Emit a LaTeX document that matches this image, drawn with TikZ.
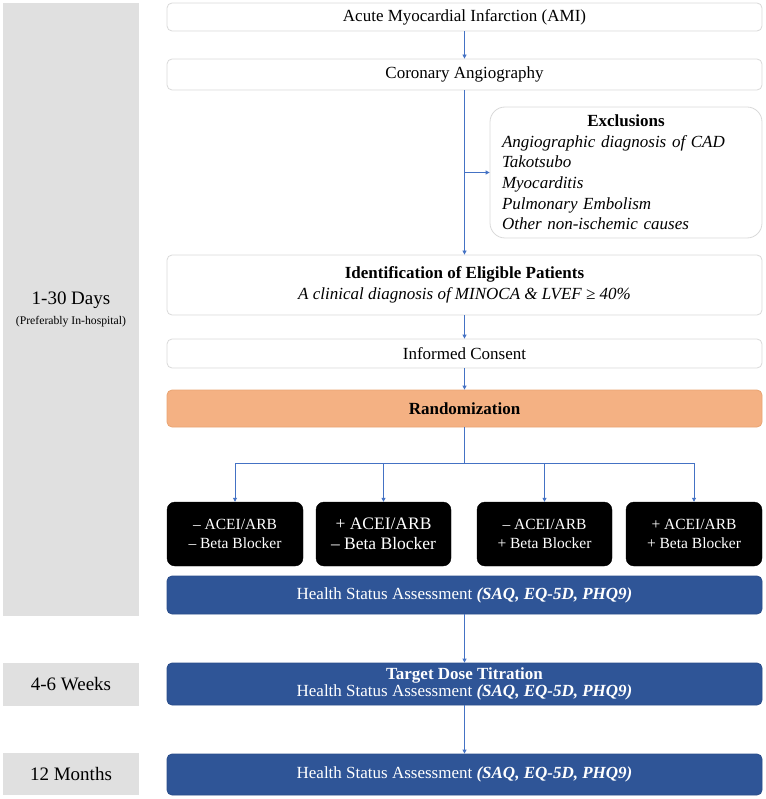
\documentclass[tikz,border=0pt]{standalone}
\usepackage{fontspec}
\setmainfont{Liberation Serif}
\usetikzlibrary{arrows.meta}
\definecolor{arrblue}{HTML}{4472C4}
\definecolor{boxgray}{HTML}{D9D9D9}
\definecolor{sidegray}{HTML}{E0E0E0}
\definecolor{randfill}{HTML}{F4B183}
\definecolor{randdraw}{HTML}{E9A472}
\definecolor{navy}{HTML}{2F5597}
\definecolor{navydraw}{HTML}{2A4D8A}
\begin{document}
\begin{tikzpicture}[x=1pt,y=-1pt,
  wbox/.style={draw=boxgray, line width=0.8pt, rounded corners=5pt, fill=white,
    minimum width=595pt, inner sep=0pt, align=center, font=\fontsize{17}{21}\selectfont},
  exbox/.style={draw=boxgray, line width=0.8pt, rounded corners=15pt, fill=white,
    minimum width=272pt, minimum height=131pt, inner xsep=12pt, inner ysep=0pt,
    text width=248pt, align=left, font=\fontsize{17}{20.6}\selectfont},
  randbox/.style={draw=randdraw, line width=0.8pt, rounded corners=5pt, fill=randfill,
    minimum width=595pt, inner sep=0pt, font=\fontsize{17}{21}\selectfont\bfseries},
  blkbox/.style={draw=black, fill=black, rounded corners=8pt, text=white,
    minimum height=64pt, inner sep=0pt, align=center, font=\fontsize{15.5}{19}\selectfont},
  bluebox/.style={draw=navydraw, line width=0.8pt, fill=navy, rounded corners=5pt, text=white,
    minimum width=595pt, inner sep=0pt, align=center, font=\fontsize{17}{17}\selectfont},
  sidebox/.style={fill=sidegray, minimum width=136pt, inner sep=0pt, align=center,
    font=\fontsize{19}{22}\selectfont},
  conn/.style={draw=arrblue, line width=0.8pt},
  arr/.style={conn, -{Triangle[width=4pt,length=4pt]}}
]
\useasboundingbox (0,0) rectangle (765,799);

% side timeline labels
\node[sidebox, minimum height=613pt] (g1) at (71,309.5)
  {1-30 Days\\[-2pt]{\fontsize{11.7}{14}\selectfont (Preferably In-hospital)}};
\node[sidebox, minimum height=43pt] (g2) at (71,684.5) {4-6 Weeks};
\node[sidebox, minimum height=42pt] (g3) at (71,774) {12 Months};

% main flow
\node[wbox, minimum height=28pt] (ami) at (464.5,17) {Acute Myocardial Infarction (AMI)};
\node[wbox, minimum height=31pt] (cor) at (464.5,74.5) {Coronary Angiography};
\node[exbox] (excl) at (626,172.5)
  {\centering\textbf{Exclusions}\par\raggedright\itshape
   Angiographic diagnosis of CAD\\Takotsubo\\Myocarditis\\Pulmonary Embolism\\Other non-ischemic causes};
\node[wbox, minimum height=60pt] (ident) at (464.5,285)
  {\textbf{Identification of Eligible Patients}\\\textit{A clinical diagnosis of MINOCA \& LVEF ≥ 40\%}};
\node[wbox, minimum height=29pt] (cons) at (464.5,353.5) {Informed Consent};
\node[randbox, minimum height=37pt] (rand) at (464.5,408.5) {Randomization};

\node[blkbox, minimum width=136pt] (t1) at (235,534) {– ACEI/ARB\\– Beta Blocker};
\node[blkbox, minimum width=135pt, font=\fontsize{17.5}{20}\selectfont] (t2) at (383.5,534) {+ ACEI/ARB\\– Beta Blocker};
\node[blkbox, minimum width=135pt] (t3) at (544.5,534) {– ACEI/ARB\\+ Beta Blocker};
\node[blkbox, minimum width=136pt] (t4) at (694,534) {+ ACEI/ARB\\+ Beta Blocker};

\node[bluebox, minimum height=38pt] (hs1) at (464.5,595)
  {Health Status Assessment \textbf{\textit{(SAQ, EQ-5D, PHQ9)}}};
\node[bluebox, minimum height=42pt] (td) at (464.5,684)
  {\textbf{Target Dose Titration}\\Health Status Assessment \textbf{\textit{(SAQ, EQ-5D, PHQ9)}}};
\node[bluebox, minimum height=41pt] (hs3) at (464.5,774.5)
  {Health Status Assessment \textbf{\textit{(SAQ, EQ-5D, PHQ9)}}};

% connectors
\draw[arr] (ami.south) -- (cor.north);
\draw[arr] (cor.south) -- (ident.north);
\draw[arr] (cor.south |- excl.west) -- (excl.west);
\draw[arr] (ident.south) -- (cons.north);
\draw[arr] (cons.south) -- (rand.north);
\coordinate (split) at (464.5,463);
\draw[conn] (rand.south) -- (split);
\draw[conn] (t1.north |- split) -- (t4.north |- split);
\foreach \t in {t1,t2,t3,t4} \draw[arr] (\t.north |- split) -- (\t.north);
\draw[arr] (hs1.south) -- (td.north);
\draw[arr] (td.south) -- (hs3.north);
\end{tikzpicture}
\end{document}
